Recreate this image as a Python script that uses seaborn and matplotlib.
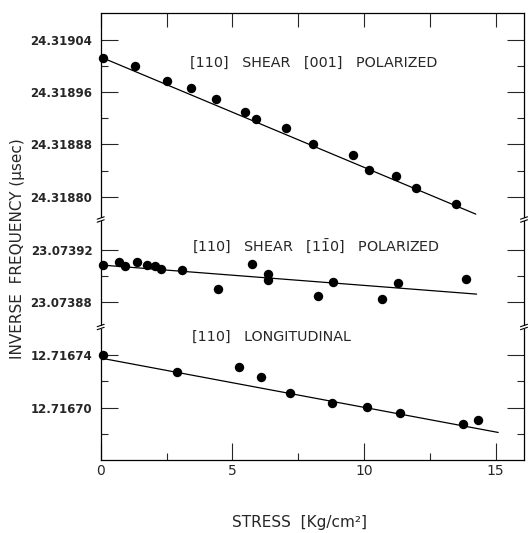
import numpy as np
import pandas as pd
import matplotlib
matplotlib.use("Agg")
import matplotlib.pyplot as plt
import seaborn as sns
from matplotlib.ticker import FixedLocator, FormatStrFormatter
from matplotlib.lines import Line2D
from matplotlib.patches import Rectangle

# ---------------- data ----------------
stress_001 = [0.07, 1.30, 2.53, 3.42, 4.38, 5.48, 5.90, 7.04, 8.05, 9.57, 10.20, 11.22, 11.97, 13.49]
invf_001 = [24.3190129, 24.3190002, 24.3189772, 24.3189660, 24.3189491, 24.3189292, 24.3189189,
            24.3189056, 24.3188802, 24.3188642, 24.3188403, 24.3188316, 24.3188127, 24.3187887]
fit_001_x = [0.0, 14.25]
fit_001_y = [24.3190139, 24.3187733]

stress_1b10 = [0.08, 0.70, 0.92, 1.37, 1.77, 2.07, 2.29, 3.09, 4.44, 5.76, 6.34, 6.34,
               8.26, 8.81, 10.67, 11.30, 13.87]
invf_1b10 = [23.0739085, 23.0739106, 23.0739078, 23.0739106, 23.0739085, 23.0739078, 23.0739055,
             23.0739047, 23.0738904, 23.0739091, 23.0739014, 23.0738971, 23.0738843, 23.0738958,
             23.0738823, 23.0738945, 23.0738978]
fit_1b10_x = [0.0, 14.28]
fit_1b10_y = [23.0739085, 23.0738861]

stress_long = [0.10, 2.91, 5.24, 6.08, 7.19, 8.77, 10.13, 11.37, 13.77, 14.34]
invf_long = [12.7167398, 12.7167269, 12.7167307, 12.7167231, 12.7167114, 12.7167036,
             12.7167005, 12.7166958, 12.7166874, 12.7166907]
fit_long_x = [0.0, 15.10]
fit_long_y = [12.7167377, 12.7166810]

x_major = [0, 5, 10, 15]
x_minor = [2.5, 7.5, 12.5]

top_major = [24.31880, 24.31888, 24.31896, 24.31904]
top_minor = [24.31884, 24.31892, 24.31900]
mid_major = [23.07388, 23.07392]
mid_minor = [23.07390]
bot_major = [12.71670, 12.71674]
bot_minor = [12.71668, 12.71672]

label_001 = "[110]   SHEAR   [001]   POLARIZED"
label_1b10 = "[110]   SHEAR   [1$\\bar{1}$0]   POLARIZED"
label_long = "[110]   LONGITUDINAL"
xlabel = "STRESS  [Kg/cm²]"
ylabel = "INVERSE  FREQUENCY (μsec)"

# ---------------- figure ----------------
sns.set_style("ticks")
plt.rcParams['font.family'] = ['DejaVu Sans']
plt.rcParams['mathtext.default'] = 'regular'

W, H = 528, 533
fig = plt.figure(figsize=(W / 100, H / 100), dpi=100)

def fx(px):
    return px / W

def fy(py):
    return 1 - py / H

left_px, right_px = 100.7, 524.0
top_px, b1_px, b2_px, bot_px = 13.3, 219.5, 327.0, 460.0

def make_ax(ytop, ybot):
    return fig.add_axes([fx(left_px), fy(ybot), fx(right_px) - fx(left_px), (ybot - ytop) / H])

ax_top = make_ax(top_px, b1_px)
ax_mid = make_ax(b1_px, b2_px)
ax_bot = make_ax(b2_px, bot_px)

panels = [
    (ax_top, stress_001, invf_001, fit_001_x, fit_001_y, (24.3187651, 24.3190809), top_major, top_minor),
    (ax_mid, stress_1b10, invf_1b10, fit_1b10_x, fit_1b10_y, (23.0738608, 23.0739435), mid_major, mid_minor),
    (ax_bot, stress_long, invf_long, fit_long_x, fit_long_y, (12.7166600, 12.7167614), bot_major, bot_minor),
]

for ax, xs, ys, lx, ly, ylim, ymaj, ymin in panels:
    sns.lineplot(x=lx, y=ly, ax=ax, color='black', linewidth=0.9, sort=False, estimator=None)
    sns.scatterplot(x=xs, y=ys, ax=ax, color='black', s=46, linewidth=0, clip_on=False, zorder=3)
    ax.set_xlim(0, 16.08)
    ax.set_ylim(*ylim)
    ax.yaxis.set_major_locator(FixedLocator(ymaj))
    ax.yaxis.set_minor_locator(FixedLocator(ymin))
    ax.yaxis.set_major_formatter(FormatStrFormatter('%.5f'))
    ax.xaxis.set_major_locator(FixedLocator(x_major))
    ax.xaxis.set_minor_locator(FixedLocator(x_minor))
    ax.tick_params(axis='y', which='both', direction='in', left=True, right=True, width=0.8,
                   labelsize=8.5, pad=6)
    ax.tick_params(axis='y', which='major', length=12)
    ax.tick_params(axis='y', which='minor', length=5)
    for lab in ax.get_yticklabels():
        lab.set_fontweight('bold')
    for s in ax.spines.values():
        s.set_linewidth(0.9)
        s.set_color('black')
    ax.set_xlabel('')
    ax.set_ylabel('')
    ax.set_facecolor('none')

# x ticks
ax_top.tick_params(axis='x', which='both', direction='in', bottom=False, top=True,
                   labelbottom=False, length=10, width=0.8)
ax_top.spines['bottom'].set_visible(False)
ax_mid.tick_params(axis='x', which='both', bottom=False, top=False, labelbottom=False)
ax_mid.spines['bottom'].set_visible(False)
ax_mid.spines['top'].set_visible(False)
ax_bot.spines['top'].set_visible(False)
ax_bot.tick_params(axis='x', which='both', direction='in', bottom=True, top=False,
                   labelsize=10, pad=3, width=0.8)
ax_bot.tick_params(axis='x', which='major', length=12)
ax_bot.tick_params(axis='x', which='minor', length=5)

# break marks on both spines
for by in (b1_px, b2_px):
    for sx in (left_px, right_px):
        fig.patches.append(Rectangle((fx(sx - 2), fy(by + 1.5)), 4 / W, 3 / H,
                                     transform=fig.transFigure, facecolor='white',
                                     edgecolor='none', zorder=5))
        for dy in (-1.5, 1.5):
            fig.lines.append(Line2D([fx(sx - 3.5), fx(sx + 3.5)],
                                    [fy(by + dy + 1.2), fy(by + dy - 1.2)],
                                    transform=fig.transFigure, color='black', lw=0.8, zorder=6))

# annotations
fig.text(fx(190), fy(63), label_001, fontsize=10.3, va='center', ha='left')
fig.text(fx(192), fy(247), label_1b10, fontsize=10.3, va='center', ha='left')
fig.text(fx(192), fy(337), label_long, fontsize=10.3, va='center', ha='left')

fig.text(fx(18), fy(249), ylabel, rotation=90, fontsize=11, va='center', ha='center')
fig.text(fx(300), fy(523), xlabel, fontsize=11, va='center', ha='center')

fig.savefig('out.png', dpi=100, facecolor='white')
